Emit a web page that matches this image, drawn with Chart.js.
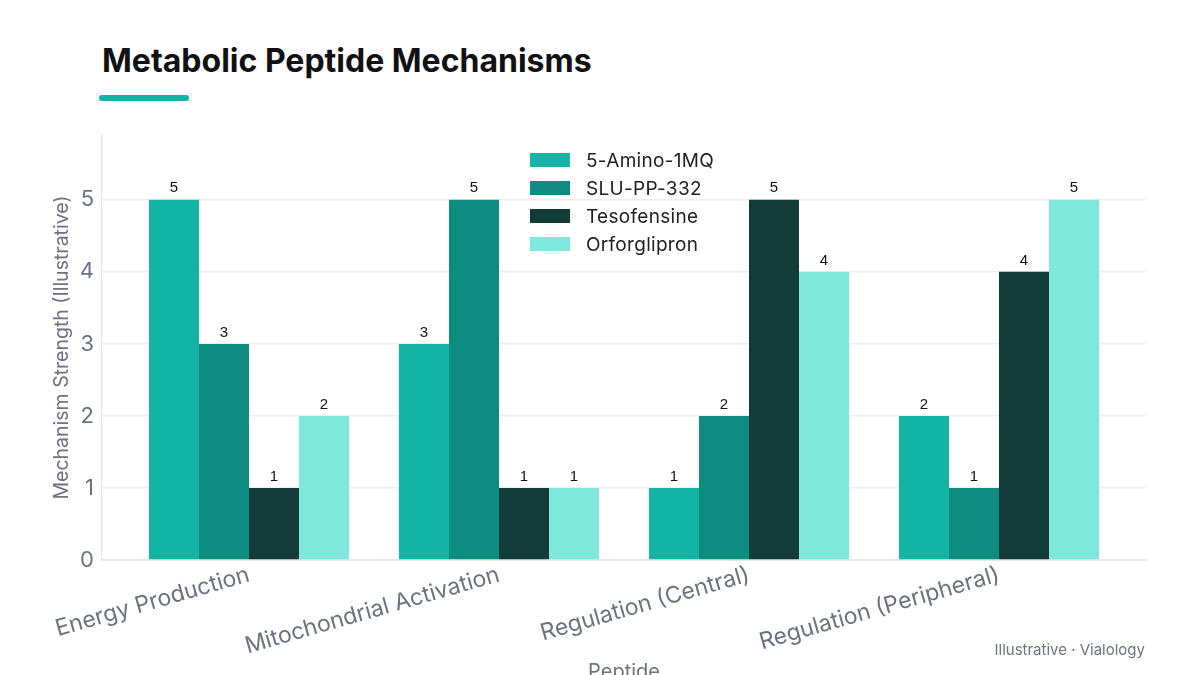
<!DOCTYPE html>
<html>
<head>
<meta charset="utf-8">
<script src="https://cdn.jsdelivr.net/npm/chart.js@4.4.1/dist/chart.umd.min.js"></script>
<style>
  html, body { margin: 0; padding: 0; background: #fff; overflow: hidden; }
  body { width: 1200px; height: 675px; position: relative; font-family: Inter, "Noto Sans", sans-serif; }
  #title { position: absolute; left: 102px; top: 41px; font-size: 32px; font-weight: 700; color: #111; margin: 0; }
  #bar { position: absolute; left: 99px; top: 95px; width: 90px; height: 6px; border-radius: 3px; background: #14b3a6; }
  #wrap { position: absolute; left: 0; top: 0; width: 1200px; height: 700px; }
  #legend { position: absolute; left: 530px; top: 146px; }
  .item { display: flex; align-items: center; height: 28px; font-size: 19px; letter-spacing: 0.3px; color: #222; }
  .sw { width: 40px; height: 14px; margin-right: 16px; }
  #note { position: absolute; right: 55px; top: 640px; font-size: 15px; color: #6b7280; }
</style>
</head>
<body>
<h1 id="title">Metabolic Peptide Mechanisms</h1>
<div id="bar"></div>
<div id="wrap"><canvas id="chart" width="1200" height="700"></canvas></div>
<div id="legend"></div>
<div id="note">Illustrative · Vialology</div>
<script>
// categories and series
const categories = ['Energy Production', 'Mitochondrial Activation', 'Regulation (Central)', 'Regulation (Peripheral)'];
const seriesNames = ['5-Amino-1MQ', 'SLU-PP-332', 'Tesofensine', 'Orforglipron'];
const aminoValues = [5, 3, 1, 2];
const sluValues = [3, 5, 2, 1];
const tesoValues = [1, 1, 5, 4];
const orfoValues = [2, 1, 4, 5];
const yTicks = [0, 1, 2, 3, 4, 5];
const colors = ['#13b3a6', '#0d8c7f', '#133b38', '#7fe8dd'];

const allValues = [aminoValues, sluValues, tesoValues, orfoValues];
const gray = '#6b7280';

const datasets = seriesNames.map((name, s) => ({
    label: name,
    data: allValues[s].map((v, i) => ({ x: i, y: v })),
    backgroundColor: colors[s],
    borderWidth: 0,
    categoryPercentage: 0.8,
    barPercentage: 1.0
}));

// numbers above bars
const valueLabels = {
    id: 'valueLabels',
    afterDatasetsDraw(chart) {
        const ctx = chart.ctx;
        ctx.save();
        ctx.font = '15px "Liberation Sans", Arial, sans-serif';
        ctx.fillStyle = '#111';
        ctx.textAlign = 'center';
        ctx.textBaseline = 'bottom';
        chart.data.datasets.forEach((ds, d) => {
            chart.getDatasetMeta(d).data.forEach((bar, i) => {
                ctx.fillText(ds.data[i].y, bar.x, bar.y - 4);
            });
        });
        ctx.restore();
    }
};

new Chart(document.getElementById('chart').getContext('2d'), {
    type: 'bar',
    data: { datasets: datasets },
    plugins: [valueLabels],
    options: {
        responsive: false,
        animation: false,
        devicePixelRatio: 1,
        layout: { padding: { left: 0, right: 54, top: 135, bottom: 0 } },
        plugins: {
            legend: { display: false },
            tooltip: { enabled: false }
        },
        scales: {
            x: {
                type: 'linear',
                offset: false,
                min: -0.588,
                max: 3.588,
                afterBuildTicks: axis => { axis.ticks = categories.map((c, i) => ({ value: i })); },
                afterFit: axis => { axis.height = 140; },
                grid: { display: false, offset: false },
                border: { display: true, color: '#e3e8ea', width: 2 },
                ticks: {
                    autoSkip: false,
                    minRotation: 16,
                    maxRotation: 16,
                    padding: -7,
                    color: gray,
                    font: { family: 'Inter', size: 23 },
                    callback: v => categories[v]
                },
                title: {
                    display: true,
                    text: 'Peptide',
                    color: gray,
                    font: { family: 'Inter', size: 20 },
                    padding: { top: 16, bottom: 16 }
                }
            },
            y: {
                min: 0,
                max: 5.9,
                afterBuildTicks: axis => { axis.ticks = yTicks.map(v => ({ value: v })); },
                afterFit: axis => { axis.width = 102; },
                grid: { color: '#eceff1', lineWidth: 1.5, drawTicks: false },
                border: { display: true, color: '#e3e8ea', width: 1.5 },
                ticks: {
                    padding: 8,
                    color: gray,
                    font: { family: 'Inter', size: 22 }
                },
                title: {
                    display: true,
                    text: 'Mechanism Strength (Illustrative)',
                    color: gray,
                    font: { family: 'Inter', size: 19.5 },
                    padding: { top: 50, bottom: 0 }
                }
            }
        }
    }
});

// legend in the plot area
const legend = document.getElementById('legend');
seriesNames.forEach((name, s) => {
    const row = document.createElement('div');
    row.className = 'item';
    row.innerHTML = '<span class="sw" style="background:' + colors[s] + '"></span>' + name;
    legend.appendChild(row);
});
</script>
</body>
</html>
